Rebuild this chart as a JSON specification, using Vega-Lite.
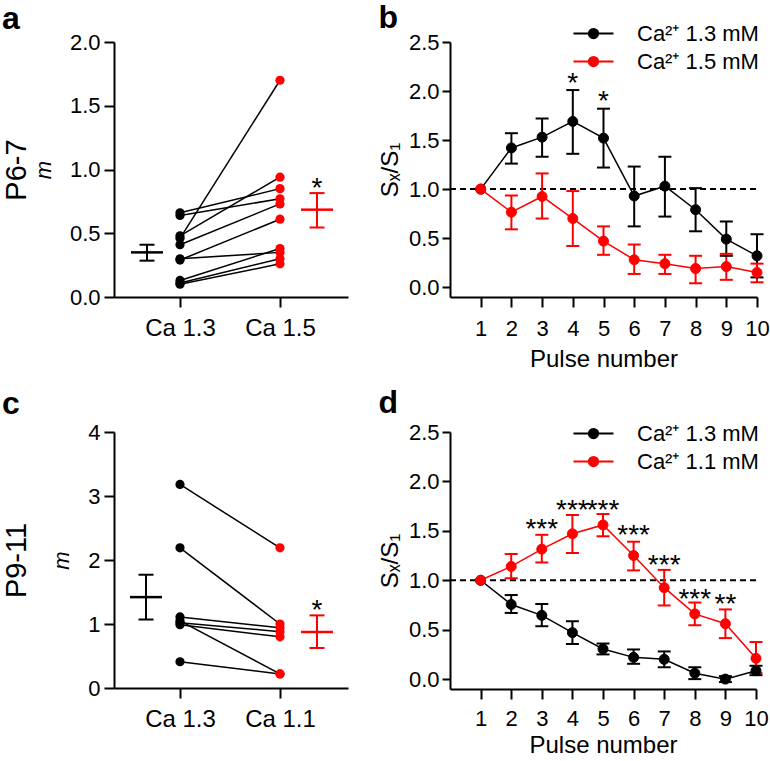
{
  "$schema": "https://vega.github.io/schema/vega-lite/v6.json",
  "background": "white",
  "padding": {"left": 2, "top": 2, "right": 2, "bottom": 0},
  "config": {
    "font": "Liberation Sans",
    "view": {"stroke": null},
    "axis": {"grid": false, "domainColor": "#000", "domainWidth": 2, "tickColor": "#000", "tickWidth": 2, "tickSize": 10, "labelColor": "#000", "labelFont": "Liberation Sans", "labelFontSize": 22, "labelPadding": 4, "labelFlush": false, "labelOverlap": false, "titleColor": "#000", "titleFont": "Liberation Sans", "titleFontSize": 24, "titleFontWeight": "normal"},
    "title": {"font": "Liberation Sans", "fontSize": 32, "fontWeight": "bold", "anchor": "start", "frame": "bounds", "color": "#000", "offset": 0},
    "legend": {"labelFont": "Liberation Sans", "labelColor": "#000"}
  },
  "datasets": {
    "pairsA": [
      {"pair": 1, "pos": 1, "grp": "k", "val": 0.46}, {"pair": 1, "pos": 2, "grp": "r", "val": 1.70},
      {"pair": 2, "pos": 1, "grp": "k", "val": 0.66}, {"pair": 2, "pos": 2, "grp": "r", "val": 0.85},
      {"pair": 3, "pos": 1, "grp": "k", "val": 0.64}, {"pair": 3, "pos": 2, "grp": "r", "val": 0.77},
      {"pair": 4, "pos": 1, "grp": "k", "val": 0.48}, {"pair": 4, "pos": 2, "grp": "r", "val": 0.94},
      {"pair": 5, "pos": 1, "grp": "k", "val": 0.41}, {"pair": 5, "pos": 2, "grp": "r", "val": 0.73},
      {"pair": 6, "pos": 1, "grp": "k", "val": 0.29}, {"pair": 6, "pos": 2, "grp": "r", "val": 0.61},
      {"pair": 7, "pos": 1, "grp": "k", "val": 0.30}, {"pair": 7, "pos": 2, "grp": "r", "val": 0.35},
      {"pair": 8, "pos": 1, "grp": "k", "val": 0.13}, {"pair": 8, "pos": 2, "grp": "r", "val": 0.38},
      {"pair": 9, "pos": 1, "grp": "k", "val": 0.11}, {"pair": 9, "pos": 2, "grp": "r", "val": 0.30},
      {"pair": 10, "pos": 1, "grp": "k", "val": 0.10}, {"pair": 10, "pos": 2, "grp": "r", "val": 0.26}
    ],
    "meansA": [
      {"pos": 0.67, "grp": "k", "mean": 0.35, "lo": 0.285, "hi": 0.41},
      {"pos": 2.37, "grp": "r", "mean": 0.685, "lo": 0.545, "hi": 0.815}
    ],
    "starsA": [{"pos": 2.37, "val": 0.89, "t": "*"}],
    "pairsC": [
      {"pair": 1, "pos": 1, "grp": "k", "val": 3.18}, {"pair": 1, "pos": 2, "grp": "r", "val": 2.19},
      {"pair": 2, "pos": 1, "grp": "k", "val": 2.19}, {"pair": 2, "pos": 2, "grp": "r", "val": 1.00},
      {"pair": 3, "pos": 1, "grp": "k", "val": 1.11}, {"pair": 3, "pos": 2, "grp": "r", "val": 0.94},
      {"pair": 4, "pos": 1, "grp": "k", "val": 1.05}, {"pair": 4, "pos": 2, "grp": "r", "val": 0.22},
      {"pair": 5, "pos": 1, "grp": "k", "val": 1.02}, {"pair": 5, "pos": 2, "grp": "r", "val": 0.88},
      {"pair": 6, "pos": 1, "grp": "k", "val": 0.99}, {"pair": 6, "pos": 2, "grp": "r", "val": 0.80},
      {"pair": 7, "pos": 1, "grp": "k", "val": 0.41}, {"pair": 7, "pos": 2, "grp": "r", "val": 0.22}
    ],
    "meansC": [
      {"pos": 0.66, "grp": "k", "mean": 1.42, "lo": 1.07, "hi": 1.77},
      {"pos": 2.37, "grp": "r", "mean": 0.875, "lo": 0.625, "hi": 1.135}
    ],
    "starsC": [{"pos": 2.37, "val": 1.275, "t": "*"}],
    "refB": [{"pulse": 0, "pulse2": 10, "ref": 1}],
    "ptsB": [
      {"pulse": 1, "series": "Ca²⁺ 1.3 mM", "mean": 1.0},
      {"pulse": 2, "series": "Ca²⁺ 1.3 mM", "mean": 1.42},
      {"pulse": 3, "series": "Ca²⁺ 1.3 mM", "mean": 1.53},
      {"pulse": 4, "series": "Ca²⁺ 1.3 mM", "mean": 1.69},
      {"pulse": 5, "series": "Ca²⁺ 1.3 mM", "mean": 1.52},
      {"pulse": 6, "series": "Ca²⁺ 1.3 mM", "mean": 0.93},
      {"pulse": 7, "series": "Ca²⁺ 1.3 mM", "mean": 1.03},
      {"pulse": 8, "series": "Ca²⁺ 1.3 mM", "mean": 0.79},
      {"pulse": 9, "series": "Ca²⁺ 1.3 mM", "mean": 0.49},
      {"pulse": 10, "series": "Ca²⁺ 1.3 mM", "mean": 0.32},
      {"pulse": 1, "series": "Ca²⁺ 1.5 mM", "mean": 1.0},
      {"pulse": 2, "series": "Ca²⁺ 1.5 mM", "mean": 0.765},
      {"pulse": 3, "series": "Ca²⁺ 1.5 mM", "mean": 0.925},
      {"pulse": 4, "series": "Ca²⁺ 1.5 mM", "mean": 0.70},
      {"pulse": 5, "series": "Ca²⁺ 1.5 mM", "mean": 0.47},
      {"pulse": 6, "series": "Ca²⁺ 1.5 mM", "mean": 0.28},
      {"pulse": 7, "series": "Ca²⁺ 1.5 mM", "mean": 0.24},
      {"pulse": 8, "series": "Ca²⁺ 1.5 mM", "mean": 0.19},
      {"pulse": 9, "series": "Ca²⁺ 1.5 mM", "mean": 0.21},
      {"pulse": 10, "series": "Ca²⁺ 1.5 mM", "mean": 0.15}
    ],
    "errB": [
      {"pulse": 2, "series": "Ca²⁺ 1.3 mM", "lo": 1.26, "hi": 1.57},
      {"pulse": 3, "series": "Ca²⁺ 1.3 mM", "lo": 1.33, "hi": 1.72},
      {"pulse": 4, "series": "Ca²⁺ 1.3 mM", "lo": 1.36, "hi": 2.01},
      {"pulse": 5, "series": "Ca²⁺ 1.3 mM", "lo": 1.22, "hi": 1.82},
      {"pulse": 6, "series": "Ca²⁺ 1.3 mM", "lo": 0.62, "hi": 1.23},
      {"pulse": 7, "series": "Ca²⁺ 1.3 mM", "lo": 0.72, "hi": 1.33},
      {"pulse": 8, "series": "Ca²⁺ 1.3 mM", "lo": 0.57, "hi": 1.01},
      {"pulse": 9, "series": "Ca²⁺ 1.3 mM", "lo": 0.32, "hi": 0.67},
      {"pulse": 10, "series": "Ca²⁺ 1.3 mM", "lo": 0.10, "hi": 0.54},
      {"pulse": 2, "series": "Ca²⁺ 1.5 mM", "lo": 0.59, "hi": 0.935},
      {"pulse": 3, "series": "Ca²⁺ 1.5 mM", "lo": 0.70, "hi": 1.16},
      {"pulse": 4, "series": "Ca²⁺ 1.5 mM", "lo": 0.42, "hi": 0.98},
      {"pulse": 5, "series": "Ca²⁺ 1.5 mM", "lo": 0.33, "hi": 0.62},
      {"pulse": 6, "series": "Ca²⁺ 1.5 mM", "lo": 0.135, "hi": 0.435},
      {"pulse": 7, "series": "Ca²⁺ 1.5 mM", "lo": 0.135, "hi": 0.33},
      {"pulse": 8, "series": "Ca²⁺ 1.5 mM", "lo": 0.04, "hi": 0.32},
      {"pulse": 9, "series": "Ca²⁺ 1.5 mM", "lo": 0.075, "hi": 0.34},
      {"pulse": 10, "series": "Ca²⁺ 1.5 mM", "lo": 0.05, "hi": 0.24}
    ],
    "starsB": [{"pulse": 4, "val": 2.125, "t": "*"}, {"pulse": 5, "val": 1.94, "t": "*"}],
    "ptsD": [
      {"pulse": 1, "series": "Ca²⁺ 1.3 mM", "mean": 1.0},
      {"pulse": 2, "series": "Ca²⁺ 1.3 mM", "mean": 0.755},
      {"pulse": 3, "series": "Ca²⁺ 1.3 mM", "mean": 0.645},
      {"pulse": 4, "series": "Ca²⁺ 1.3 mM", "mean": 0.47},
      {"pulse": 5, "series": "Ca²⁺ 1.3 mM", "mean": 0.305},
      {"pulse": 6, "series": "Ca²⁺ 1.3 mM", "mean": 0.22},
      {"pulse": 7, "series": "Ca²⁺ 1.3 mM", "mean": 0.20},
      {"pulse": 8, "series": "Ca²⁺ 1.3 mM", "mean": 0.06},
      {"pulse": 9, "series": "Ca²⁺ 1.3 mM", "mean": 0.0},
      {"pulse": 10, "series": "Ca²⁺ 1.3 mM", "mean": 0.085},
      {"pulse": 1, "series": "Ca²⁺ 1.1 mM", "mean": 1.0},
      {"pulse": 2, "series": "Ca²⁺ 1.1 mM", "mean": 1.14},
      {"pulse": 3, "series": "Ca²⁺ 1.1 mM", "mean": 1.315},
      {"pulse": 4, "series": "Ca²⁺ 1.1 mM", "mean": 1.47},
      {"pulse": 5, "series": "Ca²⁺ 1.1 mM", "mean": 1.56},
      {"pulse": 6, "series": "Ca²⁺ 1.1 mM", "mean": 1.25},
      {"pulse": 7, "series": "Ca²⁺ 1.1 mM", "mean": 0.925},
      {"pulse": 8, "series": "Ca²⁺ 1.1 mM", "mean": 0.66},
      {"pulse": 9, "series": "Ca²⁺ 1.1 mM", "mean": 0.56},
      {"pulse": 10, "series": "Ca²⁺ 1.1 mM", "mean": 0.21}
    ],
    "errD": [
      {"pulse": 2, "series": "Ca²⁺ 1.3 mM", "lo": 0.67, "hi": 0.85},
      {"pulse": 3, "series": "Ca²⁺ 1.3 mM", "lo": 0.535, "hi": 0.76},
      {"pulse": 4, "series": "Ca²⁺ 1.3 mM", "lo": 0.355, "hi": 0.585},
      {"pulse": 5, "series": "Ca²⁺ 1.3 mM", "lo": 0.25, "hi": 0.36},
      {"pulse": 6, "series": "Ca²⁺ 1.3 mM", "lo": 0.155, "hi": 0.30},
      {"pulse": 7, "series": "Ca²⁺ 1.3 mM", "lo": 0.12, "hi": 0.28},
      {"pulse": 8, "series": "Ca²⁺ 1.3 mM", "lo": 0.0, "hi": 0.12},
      {"pulse": 9, "series": "Ca²⁺ 1.3 mM", "lo": -0.03, "hi": 0.03},
      {"pulse": 10, "series": "Ca²⁺ 1.3 mM", "lo": 0.04, "hi": 0.135},
      {"pulse": 2, "series": "Ca²⁺ 1.1 mM", "lo": 1.02, "hi": 1.265},
      {"pulse": 3, "series": "Ca²⁺ 1.1 mM", "lo": 1.18, "hi": 1.46},
      {"pulse": 4, "series": "Ca²⁺ 1.1 mM", "lo": 1.275, "hi": 1.66},
      {"pulse": 5, "series": "Ca²⁺ 1.1 mM", "lo": 1.445, "hi": 1.67},
      {"pulse": 6, "series": "Ca²⁺ 1.1 mM", "lo": 1.10, "hi": 1.39},
      {"pulse": 7, "series": "Ca²⁺ 1.1 mM", "lo": 0.745, "hi": 1.105},
      {"pulse": 8, "series": "Ca²⁺ 1.1 mM", "lo": 0.545, "hi": 0.775},
      {"pulse": 9, "series": "Ca²⁺ 1.1 mM", "lo": 0.415, "hi": 0.705},
      {"pulse": 10, "series": "Ca²⁺ 1.1 mM", "lo": 0.06, "hi": 0.375}
    ],
    "starsD": [
      {"pulse": 3, "val": 1.56, "t": "***"},
      {"pulse": 4, "val": 1.755, "t": "***"},
      {"pulse": 5, "val": 1.755, "t": "***"},
      {"pulse": 6, "val": 1.50, "t": "***"},
      {"pulse": 7, "val": 1.20, "t": "***"},
      {"pulse": 8, "val": 0.855, "t": "***"},
      {"pulse": 9, "val": 0.80, "t": "**"}
    ]
  },
  "columns": 2,
  "align": "each",
  "spacing": {"row": 16, "column": 30},
  "resolve": {
    "scale": {"color": "independent", "fill": "independent", "stroke": "independent"},
    "legend": {"color": "independent", "fill": "independent", "stroke": "independent"}
  },
  "concat": [
    {
      "width": 234, "height": 255,
      "title": {"text": "a", "offset": -5},
      "encoding": {"x": {"field": "pos", "type": "quantitative", "scale": {"domain": [0.34, 2.68], "nice": false, "zero": false}, "axis": {"values": [1, 2], "labelExpr": "datum.value == 1 ? 'Ca 1.3' : 'Ca 1.5'", "title": null, "labelFontSize": 24, "labelPadding": 9}}},
      "resolve": {"axis": {"y": "independent"}},
      "layer": [
        {"data": {"name": "pairsA"}, "mark": {"type": "line", "color": "#000", "strokeWidth": 1.5},
         "encoding": {"y": {"field": "val", "type": "quantitative", "scale": {"domain": [0, 2], "nice": false, "zero": false}, "axis": {"orient": "left", "values": [0, 0.5, 1, 1.5, 2], "format": ".1f", "title": "m", "titleFontStyle": "italic", "titleFontSize": 22, "titlePadding": 14}}, "detail": {"field": "pair", "type": "nominal"}}},
        {"data": {"name": "pairsA"}, "mark": {"type": "circle", "size": 85, "opacity": 1},
         "encoding": {"y": {"field": "val", "type": "quantitative", "scale": {"domain": [0, 2], "nice": false, "zero": false}, "axis": {"orient": "left", "title": "P6-7", "labels": false, "ticks": false, "domain": false, "titleFontSize": 29, "titlePadding": 83}}, "color": {"field": "grp", "type": "nominal", "scale": {"domain": ["k", "r"], "range": ["#000000", "#ff0000"]}, "legend": null}}},
        {"data": {"name": "meansA"}, "mark": {"type": "rule", "strokeWidth": 2},
         "encoding": {"y": {"field": "lo", "type": "quantitative", "scale": {"domain": [0, 2], "nice": false, "zero": false}, "axis": null}, "y2": {"field": "hi"}, "color": {"field": "grp", "type": "nominal", "scale": {"domain": ["k", "r"], "range": ["#000000", "#ff0000"]}, "legend": null}}},
        {"data": {"name": "meansA"}, "mark": {"type": "tick", "orient": "horizontal", "size": 32, "thickness": 2.5, "opacity": 1},
         "encoding": {"y": {"field": "mean", "type": "quantitative", "scale": {"domain": [0, 2], "nice": false, "zero": false}, "axis": null}, "color": {"field": "grp", "type": "nominal", "scale": {"domain": ["k", "r"], "range": ["#000000", "#ff0000"]}, "legend": null}}},
        {"data": {"name": "meansA"}, "mark": {"type": "tick", "orient": "horizontal", "size": 15, "thickness": 2, "opacity": 1},
         "encoding": {"y": {"field": "lo", "type": "quantitative", "scale": {"domain": [0, 2], "nice": false, "zero": false}, "axis": null}, "color": {"field": "grp", "type": "nominal", "scale": {"domain": ["k", "r"], "range": ["#000000", "#ff0000"]}, "legend": null}}},
        {"data": {"name": "meansA"}, "mark": {"type": "tick", "orient": "horizontal", "size": 15, "thickness": 2, "opacity": 1},
         "encoding": {"y": {"field": "hi", "type": "quantitative", "scale": {"domain": [0, 2], "nice": false, "zero": false}, "axis": null}, "color": {"field": "grp", "type": "nominal", "scale": {"domain": ["k", "r"], "range": ["#000000", "#ff0000"]}, "legend": null}}},
        {"data": {"name": "starsA"}, "mark": {"type": "text", "fontSize": 28, "baseline": "middle", "dy": 5, "color": "#000"},
         "encoding": {"y": {"field": "val", "type": "quantitative", "scale": {"domain": [0, 2], "nice": false, "zero": false}, "axis": null}, "text": {"field": "t"}}}
      ]
    },
    {
      "width": 307, "height": 255,
      "title": {"text": "b", "offset": -15},
      "encoding": {"x": {"field": "pulse", "type": "quantitative", "scale": {"domain": [0, 10], "nice": false, "zero": false}, "axis": {"values": [1, 2, 3, 4, 5, 6, 7, 8, 9, 10], "format": "d", "title": "Pulse number", "labelPadding": 11, "titlePadding": 8}}},
      "resolve": {"axis": {"y": "independent"}},
      "layer": [
        {"data": {"name": "refB"}, "mark": {"type": "rule", "strokeDash": [6, 4], "strokeWidth": 2, "color": "#000"},
         "encoding": {"x2": {"field": "pulse2"}, "y": {"field": "ref", "type": "quantitative", "scale": {"domain": [-0.1, 2.5], "nice": false, "zero": false}, "axis": {"orient": "left", "values": [0, 0.5, 1, 1.5, 2, 2.5], "format": ".1f", "title": "Sₓ/S₁", "tickSize": 8, "labelPadding": 3, "titlePadding": 6}}}},
        {"data": {"name": "errB"}, "mark": {"type": "rule", "strokeWidth": 2},
         "encoding": {"y": {"field": "lo", "type": "quantitative", "scale": {"domain": [-0.1, 2.5], "nice": false, "zero": false}, "axis": null}, "y2": {"field": "hi"}, "stroke": {"field": "series", "type": "nominal", "scale": {"domain": ["Ca²⁺ 1.3 mM", "Ca²⁺ 1.5 mM"], "range": ["#000000", "#ff0000"]}}}},
        {"data": {"name": "errB"}, "mark": {"type": "tick", "orient": "horizontal", "size": 13, "thickness": 2, "opacity": 1},
         "encoding": {"y": {"field": "lo", "type": "quantitative", "scale": {"domain": [-0.1, 2.5], "nice": false, "zero": false}, "axis": null}, "fill": {"field": "series", "type": "nominal", "scale": {"domain": ["Ca²⁺ 1.3 mM", "Ca²⁺ 1.5 mM"], "range": ["#000000", "#ff0000"]}}}},
        {"data": {"name": "errB"}, "mark": {"type": "tick", "orient": "horizontal", "size": 13, "thickness": 2, "opacity": 1},
         "encoding": {"y": {"field": "hi", "type": "quantitative", "scale": {"domain": [-0.1, 2.5], "nice": false, "zero": false}, "axis": null}, "fill": {"field": "series", "type": "nominal", "scale": {"domain": ["Ca²⁺ 1.3 mM", "Ca²⁺ 1.5 mM"], "range": ["#000000", "#ff0000"]}}}},
        {"data": {"name": "ptsB"}, "mark": {"type": "line", "strokeWidth": 1.5},
         "encoding": {"y": {"field": "mean", "type": "quantitative", "scale": {"domain": [-0.1, 2.5], "nice": false, "zero": false}, "axis": null}, "stroke": {"field": "series", "type": "nominal", "scale": {"domain": ["Ca²⁺ 1.3 mM", "Ca²⁺ 1.5 mM"], "range": ["#000000", "#ff0000"]}}}},
        {"data": {"name": "ptsB"}, "mark": {"type": "circle", "size": 100, "opacity": 1, "strokeWidth": 1},
         "encoding": {"y": {"field": "mean", "type": "quantitative", "scale": {"domain": [-0.1, 2.5], "nice": false, "zero": false}, "axis": null},
           "fill": {"field": "series", "type": "nominal", "scale": {"domain": ["Ca²⁺ 1.3 mM", "Ca²⁺ 1.5 mM"], "range": ["#000000", "#ff0000"]}, "legend": {"orient": "none", "legendX": 130, "legendY": -22, "title": null, "symbolType": "M-1.6,0H1.6M0.37,0A0.37,0.37 0 1,1 -0.37,0A0.37,0.37 0 1,1 0.37,0Z", "symbolSize": 625, "symbolStrokeWidth": 2, "symbolOpacity": 1, "labelFontSize": 22, "labelOffset": 30, "rowPadding": 3, "padding": 0}},
           "stroke": {"field": "series", "type": "nominal", "scale": {"domain": ["Ca²⁺ 1.3 mM", "Ca²⁺ 1.5 mM"], "range": ["#000000", "#ff0000"]}, "legend": {"orient": "none", "legendX": 130, "legendY": -22, "title": null, "symbolType": "M-1.6,0H1.6M0.37,0A0.37,0.37 0 1,1 -0.37,0A0.37,0.37 0 1,1 0.37,0Z", "symbolSize": 625, "symbolStrokeWidth": 2, "symbolOpacity": 1, "labelFontSize": 22, "labelOffset": 30, "rowPadding": 3, "padding": 0}}}},
        {"data": {"name": "starsB"}, "mark": {"type": "text", "fontSize": 28, "baseline": "middle", "dy": 5, "color": "#000"},
         "encoding": {"y": {"field": "val", "type": "quantitative", "scale": {"domain": [-0.1, 2.5], "nice": false, "zero": false}, "axis": null}, "text": {"field": "t"}}}
      ]
    },
    {
      "width": 234, "height": 256,
      "title": {"text": "c", "offset": 0},
      "encoding": {"x": {"field": "pos", "type": "quantitative", "scale": {"domain": [0.34, 2.68], "nice": false, "zero": false}, "axis": {"values": [1, 2], "labelExpr": "datum.value == 1 ? 'Ca 1.3' : 'Ca 1.1'", "title": null, "labelFontSize": 24, "labelPadding": 9}}},
      "resolve": {"axis": {"y": "independent"}},
      "layer": [
        {"data": {"name": "pairsC"}, "mark": {"type": "line", "color": "#000", "strokeWidth": 1.5},
         "encoding": {"y": {"field": "val", "type": "quantitative", "scale": {"domain": [0, 4], "nice": false, "zero": false}, "axis": {"orient": "left", "values": [0, 1, 2, 3, 4], "format": "d", "title": "m", "titleFontStyle": "italic", "titleFontSize": 22, "titlePadding": 14}}, "detail": {"field": "pair", "type": "nominal"}}},
        {"data": {"name": "pairsC"}, "mark": {"type": "circle", "size": 85, "opacity": 1},
         "encoding": {"y": {"field": "val", "type": "quantitative", "scale": {"domain": [0, 4], "nice": false, "zero": false}, "axis": {"orient": "left", "title": "P9-11", "labels": false, "ticks": false, "domain": false, "titleFontSize": 29, "titlePadding": 83}}, "color": {"field": "grp", "type": "nominal", "scale": {"domain": ["k", "r"], "range": ["#000000", "#ff0000"]}, "legend": null}}},
        {"data": {"name": "meansC"}, "mark": {"type": "rule", "strokeWidth": 2},
         "encoding": {"y": {"field": "lo", "type": "quantitative", "scale": {"domain": [0, 4], "nice": false, "zero": false}, "axis": null}, "y2": {"field": "hi"}, "color": {"field": "grp", "type": "nominal", "scale": {"domain": ["k", "r"], "range": ["#000000", "#ff0000"]}, "legend": null}}},
        {"data": {"name": "meansC"}, "mark": {"type": "tick", "orient": "horizontal", "size": 32, "thickness": 2.5, "opacity": 1},
         "encoding": {"y": {"field": "mean", "type": "quantitative", "scale": {"domain": [0, 4], "nice": false, "zero": false}, "axis": null}, "color": {"field": "grp", "type": "nominal", "scale": {"domain": ["k", "r"], "range": ["#000000", "#ff0000"]}, "legend": null}}},
        {"data": {"name": "meansC"}, "mark": {"type": "tick", "orient": "horizontal", "size": 15, "thickness": 2, "opacity": 1},
         "encoding": {"y": {"field": "lo", "type": "quantitative", "scale": {"domain": [0, 4], "nice": false, "zero": false}, "axis": null}, "color": {"field": "grp", "type": "nominal", "scale": {"domain": ["k", "r"], "range": ["#000000", "#ff0000"]}, "legend": null}}},
        {"data": {"name": "meansC"}, "mark": {"type": "tick", "orient": "horizontal", "size": 15, "thickness": 2, "opacity": 1},
         "encoding": {"y": {"field": "hi", "type": "quantitative", "scale": {"domain": [0, 4], "nice": false, "zero": false}, "axis": null}, "color": {"field": "grp", "type": "nominal", "scale": {"domain": ["k", "r"], "range": ["#000000", "#ff0000"]}, "legend": null}}},
        {"data": {"name": "starsC"}, "mark": {"type": "text", "fontSize": 28, "baseline": "middle", "dy": 5, "color": "#000"},
         "encoding": {"y": {"field": "val", "type": "quantitative", "scale": {"domain": [0, 4], "nice": false, "zero": false}, "axis": null}, "text": {"field": "t"}}}
      ]
    },
    {
      "width": 306, "height": 257,
      "title": {"text": "d", "offset": 0},
      "encoding": {"x": {"field": "pulse", "type": "quantitative", "scale": {"domain": [0, 10], "nice": false, "zero": false}, "axis": {"values": [1, 2, 3, 4, 5, 6, 7, 8, 9, 10], "format": "d", "title": "Pulse number", "labelPadding": 9, "titlePadding": 4}}},
      "resolve": {"axis": {"y": "independent"}},
      "layer": [
        {"data": {"name": "refB"}, "mark": {"type": "rule", "strokeDash": [6, 4], "strokeWidth": 2, "color": "#000"},
         "encoding": {"x2": {"field": "pulse2"}, "y": {"field": "ref", "type": "quantitative", "scale": {"domain": [-0.1, 2.5], "nice": false, "zero": false}, "axis": {"orient": "left", "values": [0, 0.5, 1, 1.5, 2, 2.5], "format": ".1f", "title": "Sₓ/S₁", "tickSize": 8, "labelPadding": 3, "titlePadding": 6}}}},
        {"data": {"name": "errD"}, "mark": {"type": "rule", "strokeWidth": 2},
         "encoding": {"y": {"field": "lo", "type": "quantitative", "scale": {"domain": [-0.1, 2.5], "nice": false, "zero": false}, "axis": null}, "y2": {"field": "hi"}, "stroke": {"field": "series", "type": "nominal", "scale": {"domain": ["Ca²⁺ 1.3 mM", "Ca²⁺ 1.1 mM"], "range": ["#000000", "#ff0000"]}}}},
        {"data": {"name": "errD"}, "mark": {"type": "tick", "orient": "horizontal", "size": 13, "thickness": 2, "opacity": 1},
         "encoding": {"y": {"field": "lo", "type": "quantitative", "scale": {"domain": [-0.1, 2.5], "nice": false, "zero": false}, "axis": null}, "fill": {"field": "series", "type": "nominal", "scale": {"domain": ["Ca²⁺ 1.3 mM", "Ca²⁺ 1.1 mM"], "range": ["#000000", "#ff0000"]}}}},
        {"data": {"name": "errD"}, "mark": {"type": "tick", "orient": "horizontal", "size": 13, "thickness": 2, "opacity": 1},
         "encoding": {"y": {"field": "hi", "type": "quantitative", "scale": {"domain": [-0.1, 2.5], "nice": false, "zero": false}, "axis": null}, "fill": {"field": "series", "type": "nominal", "scale": {"domain": ["Ca²⁺ 1.3 mM", "Ca²⁺ 1.1 mM"], "range": ["#000000", "#ff0000"]}}}},
        {"data": {"name": "ptsD"}, "mark": {"type": "line", "strokeWidth": 1.5},
         "encoding": {"y": {"field": "mean", "type": "quantitative", "scale": {"domain": [-0.1, 2.5], "nice": false, "zero": false}, "axis": null}, "stroke": {"field": "series", "type": "nominal", "scale": {"domain": ["Ca²⁺ 1.3 mM", "Ca²⁺ 1.1 mM"], "range": ["#000000", "#ff0000"]}}}},
        {"data": {"name": "ptsD"}, "mark": {"type": "circle", "size": 100, "opacity": 1, "strokeWidth": 1},
         "encoding": {"y": {"field": "mean", "type": "quantitative", "scale": {"domain": [-0.1, 2.5], "nice": false, "zero": false}, "axis": null},
           "fill": {"field": "series", "type": "nominal", "scale": {"domain": ["Ca²⁺ 1.3 mM", "Ca²⁺ 1.1 mM"], "range": ["#000000", "#ff0000"]}, "legend": {"orient": "none", "legendX": 130, "legendY": -12, "title": null, "symbolType": "M-1.6,0H1.6M0.37,0A0.37,0.37 0 1,1 -0.37,0A0.37,0.37 0 1,1 0.37,0Z", "symbolSize": 625, "symbolStrokeWidth": 2, "symbolOpacity": 1, "labelFontSize": 22, "labelOffset": 30, "rowPadding": 3, "padding": 0}},
           "stroke": {"field": "series", "type": "nominal", "scale": {"domain": ["Ca²⁺ 1.3 mM", "Ca²⁺ 1.1 mM"], "range": ["#000000", "#ff0000"]}, "legend": {"orient": "none", "legendX": 130, "legendY": -12, "title": null, "symbolType": "M-1.6,0H1.6M0.37,0A0.37,0.37 0 1,1 -0.37,0A0.37,0.37 0 1,1 0.37,0Z", "symbolSize": 625, "symbolStrokeWidth": 2, "symbolOpacity": 1, "labelFontSize": 22, "labelOffset": 30, "rowPadding": 3, "padding": 0}}}},
        {"data": {"name": "starsD"}, "mark": {"type": "text", "fontSize": 28, "baseline": "middle", "dy": 5, "color": "#000"},
         "encoding": {"y": {"field": "val", "type": "quantitative", "scale": {"domain": [-0.1, 2.5], "nice": false, "zero": false}, "axis": null}, "text": {"field": "t"}}}
      ]
    }
  ]
}
